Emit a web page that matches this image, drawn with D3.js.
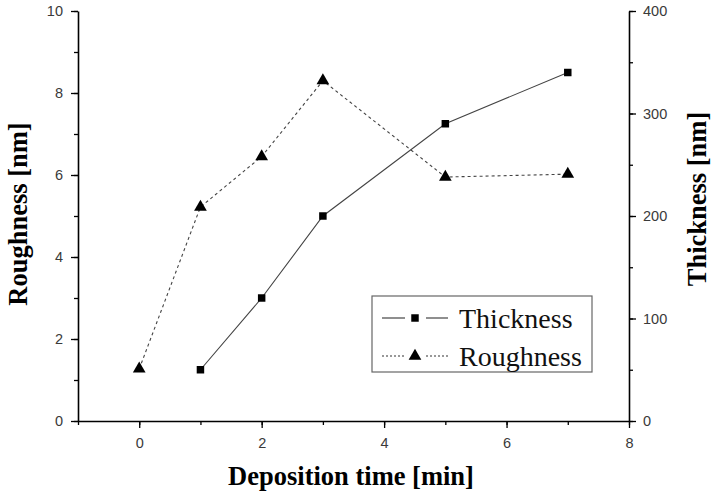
<!DOCTYPE html>
<html>
<head>
<meta charset="utf-8">
<script src="https://cdn.jsdelivr.net/npm/d3@7"></script>
<style>
  html, body { margin: 0; padding: 0; background: #fff; }
  svg { display: block; }
</style>
</head>
<body>
<svg id="chart" width="711" height="494"></svg>
<script>
// Deposition time in minutes
const timeThickness = [1, 2, 3, 5, 7];
const thicknessNm = [50, 120, 200, 290, 340];
const timeRoughness = [0, 1, 2, 3, 5, 7];
const roughnessNm = [1.27, 5.22, 6.45, 8.3, 5.95, 6.02];

const xTicks = [0, 2, 4, 6, 8];
const leftTicks = [0, 2, 4, 6, 8, 10];
const rightTicks = [0, 100, 200, 300, 400];

const svg = d3.select("#chart");
const plot = { left: 78, right: 629, top: 11, bottom: 421 };

const x = d3.scaleLinear().domain([-1, 8]).range([plot.left, plot.right]);
const yL = d3.scaleLinear().domain([0, 10]).range([plot.bottom, plot.top]);
const yR = d3.scaleLinear().domain([0, 400]).range([plot.bottom, plot.top]);

const tickFont = "'Liberation Sans', Arial, sans-serif";
const titleFont = "'Liberation Serif', 'Times New Roman', serif";

function styleAxis(g) {
  g.selectAll("path.domain").attr("stroke", "#000").attr("stroke-width", 1.6);
  g.selectAll("line").attr("stroke", "#000").attr("stroke-width", 1.3);
  g.selectAll("text").attr("fill", "#3a3a3a").style("font-family", tickFont).style("font-size", "14.5px");
}

// bottom axis: minor ticks at every minute, labelled majors every 2
const gx = svg.append("g").attr("transform", `translate(0,${plot.bottom})`)
  .call(d3.axisBottom(x).tickValues(d3.range(-1, 9)).tickSize(4).tickFormat(""));
gx.select("path.domain").remove();
const gxMaj = svg.append("g").attr("transform", `translate(0,${plot.bottom})`)
  .call(d3.axisBottom(x).tickValues(xTicks).tickSize(7).tickSizeOuter(0).tickPadding(10).tickFormat(d3.format("d")));
styleAxis(gx); styleAxis(gxMaj);

// left axis: roughness
const gyMin = svg.append("g").attr("transform", `translate(${plot.left},0)`)
  .call(d3.axisLeft(yL).tickValues(d3.range(0, 11)).tickSize(4).tickFormat(""));
gyMin.select("path.domain").remove();
const gy = svg.append("g").attr("transform", `translate(${plot.left},0)`)
  .call(d3.axisLeft(yL).tickValues(leftTicks).tickSize(7).tickSizeOuter(0).tickPadding(8).tickFormat(d3.format("d")));
styleAxis(gyMin); styleAxis(gy);

// right axis: thickness
const grMin = svg.append("g").attr("transform", `translate(${plot.right},0)`)
  .call(d3.axisRight(yR).tickValues(d3.range(0, 401, 50)).tickSize(4).tickFormat(""));
grMin.select("path.domain").remove();
const gr = svg.append("g").attr("transform", `translate(${plot.right},0)`)
  .call(d3.axisRight(yR).tickValues(rightTicks).tickSize(7).tickSizeOuter(0).tickPadding(7).tickFormat(d3.format("d")));
styleAxis(grMin); styleAxis(gr);

// axis titles
const titleSize = "26.5px";
svg.append("text")
  .attr("x", 351).attr("y", 485)
  .attr("text-anchor", "middle")
  .style("font-family", titleFont).style("font-weight", "bold").style("font-size", titleSize)
  .text("Deposition time [min]");
svg.append("text")
  .attr("transform", `translate(27,214) rotate(-90)`)
  .attr("text-anchor", "middle")
  .style("font-family", titleFont).style("font-weight", "bold").style("font-size", titleSize)
  .text("Roughness [nm]");
svg.append("text")
  .attr("transform", `translate(706,199) rotate(-90)`)
  .attr("text-anchor", "middle")
  .style("font-family", titleFont).style("font-weight", "bold").style("font-size", titleSize)
  .text("Thickness [nm]");

// series lines
const thickPts = timeThickness.map((t, i) => [x(t), yR(thicknessNm[i])]);
const roughPts = timeRoughness.map((t, i) => [x(t), yL(roughnessNm[i])]);
const line = d3.line();

svg.append("path").attr("d", line(roughPts))
  .attr("fill", "none").attr("stroke", "#444").attr("stroke-width", 1.1)
  .attr("stroke-dasharray", "3,3");
svg.append("path").attr("d", line(thickPts))
  .attr("fill", "none").attr("stroke", "#444").attr("stroke-width", 1.1);

const sq = d3.symbol().type(d3.symbolSquare).size(56);
const tri = d3.symbol().type(d3.symbolTriangle).size(70);

svg.append("g").selectAll("path").data(thickPts).join("path")
  .attr("d", sq).attr("transform", d => `translate(${d[0]},${d[1]})`).attr("fill", "#000");
svg.append("g").selectAll("path").data(roughPts).join("path")
  .attr("d", tri).attr("transform", d => `translate(${d[0]},${d[1]})`).attr("fill", "#000");

// legend
const lg = svg.append("g");
lg.append("rect").attr("x", 372).attr("y", 296).attr("width", 220).attr("height", 76)
  .attr("fill", "#fff").attr("stroke", "#666").attr("stroke-width", 1.2);
const legendRows = [
  { label: "Thickness", y: 318, dash: null, sym: sq },
  { label: "Roughness", y: 356, dash: "2,2", sym: tri }
];
legendRows.forEach(r => {
  lg.append("line").attr("x1", 382).attr("x2", 405).attr("y1", r.y).attr("y2", r.y)
    .attr("stroke", "#333").attr("stroke-width", 1.1).attr("stroke-dasharray", r.dash);
  lg.append("line").attr("x1", 426).attr("x2", 448).attr("y1", r.y).attr("y2", r.y)
    .attr("stroke", "#333").attr("stroke-width", 1.1).attr("stroke-dasharray", r.dash);
  lg.append("path").attr("d", r.sym).attr("transform", `translate(415,${r.y})`).attr("fill", "#000");
  lg.append("text").attr("x", 459).attr("y", r.y + 9.5)
    .style("font-family", titleFont).style("font-size", "28px").attr("fill", "#111")
    .text(r.label);
});
</script>
</body>
</html>
